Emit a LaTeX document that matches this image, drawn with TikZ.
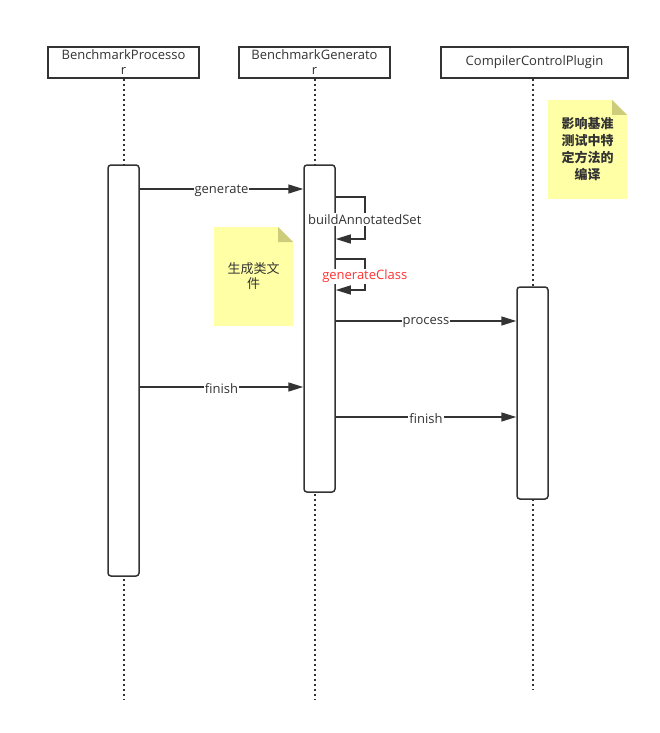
\documentclass[tikz,border=0pt]{standalone}
\usepackage{fontspec}
\setmainfont{Open Sans}
\newfontfamily\cjk{Noto Sans CJK SC}
\usetikzlibrary{arrows.meta,positioning}
\definecolor{seqgray}{RGB}{51,51,51}
\definecolor{notefill}{RGB}{255,255,166}
\definecolor{notefold}{RGB}{204,204,122}
\definecolor{msgred}{RGB}{255,51,51}

\begin{document}
\begin{tikzpicture}[
  x=1pt, y=-1pt,
  every node/.style={font=\fontsize{13}{15}\selectfont, text=seqgray, align=center},
  head/.style={draw=seqgray, line width=1.5pt, minimum height=31pt, inner sep=1pt},
  act/.style={draw=seqgray, fill=white, line width=1.5pt, rounded corners=3pt, minimum width=31pt},
  life/.style={seqgray, line width=2pt, dash pattern=on 2pt off 3pt},
  msg/.style={-{Triangle[length=15pt,width=9pt]}, seqgray, line width=1.5pt},
  lbl/.style={fill=white, inner sep=1pt, yshift=-1.5pt},
  note/.style={fill=notefill, minimum width=79pt, minimum height=99pt,
    path picture={
      \fill[white] ([xshift=-15pt]path picture bounding box.north east) -- (path picture bounding box.north east) -- ([yshift=-15pt]path picture bounding box.north east) -- cycle;
      \fill[notefold] ([xshift=-15pt]path picture bounding box.north east) -- ([xshift=-15pt,yshift=-15pt]path picture bounding box.north east) -- ([yshift=-15pt]path picture bounding box.north east) -- cycle;
    }}
]
  \useasboundingbox (0,0) rectangle (659,733);

  % Lifeline heads
  \node (proc) [head, minimum width=151pt] at (123.5,62.5) {BenchmarkProcesso\\r};
  \node (gen) [head, minimum width=151pt] at (314.5,62.5) {BenchmarkGenerato\\r};
  \node (plug) [head, minimum width=187pt] at (534.5,62.5) {CompilerControlPlugin};

  % Lifelines
  \coordinate (procend) at (123.5,700);
  \coordinate (genend) at (314.5,700);
  \coordinate (plugend) at (532.5,690);
  \draw [life] (proc.south) -- (procend);
  \draw [life] (gen.south) -- (genend);
  \draw [life] (plug.south -| plugend) -- (plugend);

  % Activations
  \node (act1) [act, minimum height=411pt] at (123.5,370.5) {};
  \node (act2) [act, minimum height=327pt] at (319.5,328.5) {};
  \node (act3) [act, minimum height=212pt] at (532.5,393) {};

  % Notes
  \node (notegen) [note] at (253.5,276.5) {\cjk 生成类文\\\cjk 件};
  \node (noteplug) [note, font=\fontsize{13}{17}\selectfont] at (587.5,149.5) {\cjk\bfseries 影响基准\\\cjk\bfseries 测试中特\\\cjk\bfseries 定方法的\\\cjk\bfseries 编译};

  % Messages
  \coordinate (ygen) at (0,189);
  \coordinate (ybuild) at (0,197);
  \coordinate (ybuildret) at (0,239);
  \coordinate (yclass) at (0,259);
  \coordinate (yclassret) at (0,290);
  \coordinate (yproc) at (0,321);
  \coordinate (yfin) at (0,387);
  \coordinate (yfinplug) at (0,417);

  \draw [msg] (act1.east |- ygen) -- node[lbl] {generate} (act2.west |- ygen);
  \draw [msg] (act2.east |- ybuild) -- ++(29,0) |- node[lbl, pos=0.25] {buildAnnotatedSet} (act2.east |- ybuildret);
  \draw [msg] (act2.east |- yclass) -- ++(29,0) |- node[lbl, pos=0.25, text=msgred] {generateClass} (act2.east |- yclassret);
  \draw [msg] (act2.east |- yproc) -- node[lbl] {process} (act3.west |- yproc);
  \draw [msg] (act1.east |- yfin) -- node[lbl] {finish} (act2.west |- yfin);
  \draw [msg] (act2.east |- yfinplug) -- node[lbl] {finish} (act3.west |- yfinplug);
\end{tikzpicture}
\end{document}
